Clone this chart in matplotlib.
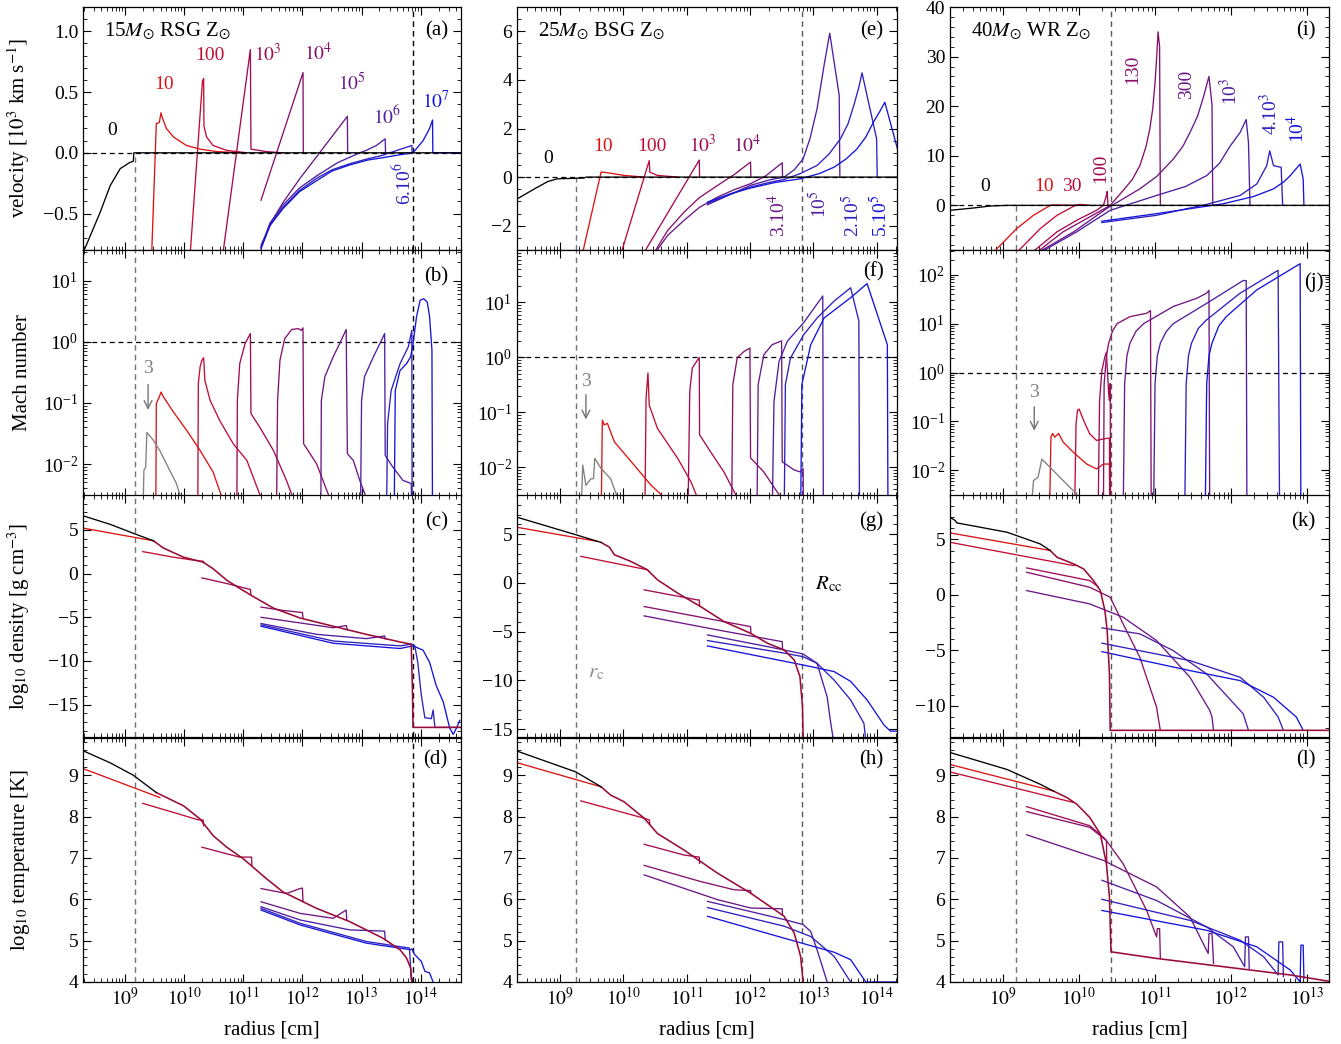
import numpy as np
import matplotlib
matplotlib.use('Agg')
import matplotlib.pyplot as plt
from matplotlib.colors import LinearSegmentedColormap
from matplotlib.ticker import MultipleLocator, LogLocator, NullFormatter, FixedLocator

plt.rcParams['font.family'] = ['Liberation Serif', 'DejaVu Serif']
plt.rcParams['mathtext.fontset'] = 'stix'
plt.rcParams['font.size'] = 14

# ---------------- data (x = log10 radius [cm], y = value) ----------------
T_COL1 = ['10', '100', '$10^3$', '$10^4$', '$10^5$', '$10^6$', '6.10$^6$', '$10^7$']
T_COL2 = ['10', '100', '$10^3$', '$10^4$', '3.10$^4$', '10$^5$', '2.10$^5$', '5.10$^5$']
T_COL3 = ['10', '30', '100', '130', '300', '10$^3$', '4.10$^3$', '10$^4$']

# --- 15 Msun RSG ---
A_T0 = [8.32,-0.79, 8.58,-0.49, 8.75,-0.27, 8.92,-0.13, 9.08,-0.08, 9.14,-0.07, 9.15,0.0, 14.7,0.0]
A_CURVES = [
    [9.45,-0.85, 9.53,0.24, 9.58,0.25, 9.61,0.33, 9.63,0.29, 9.70,0.20, 9.82,0.13, 10.04,0.06, 10.27,0.03, 10.55,0.01, 10.94,0.0],
    [10.10,-0.85, 10.31,0.59, 10.33,0.61, 10.335,0.22, 10.38,0.13, 10.49,0.06, 10.72,0.02, 11.06,0.0],
    [10.65,-0.85, 11.12,0.85, 11.13,0.03, 11.39,0.01, 11.67,0.0],
    [11.30,-0.39, 12.01,0.66, 12.015,0.0],
    [11.30,-0.76, 11.50,-0.55, 11.67,-0.41, 11.96,-0.21, 12.29,0.0, 12.76,0.30, 12.765,0.0],
    [11.30,-0.78, 11.45,-0.58, 11.67,-0.43, 11.95,-0.29, 12.24,-0.19, 12.6,-0.08, 12.97,0.0, 13.08,0.02, 13.25,0.06, 13.40,0.115, 13.405,0.0],
    [11.30,-0.78, 11.45,-0.59, 11.67,-0.45, 11.95,-0.31, 12.24,-0.21, 12.5,-0.14, 12.80,-0.09, 13.1,-0.05, 13.36,-0.02, 13.60,0.02, 13.85,0.06, 13.855,0.0],
    [11.30,-0.79, 11.45,-0.60, 11.67,-0.46, 11.95,-0.32, 12.24,-0.23, 12.5,-0.15, 12.80,-0.10, 13.1,-0.06, 13.36,-0.04, 13.6,-0.02, 13.87,0.0, 14.04,0.10, 14.15,0.20, 14.20,0.27, 14.205,0.0, 14.7,0.0],
]
B_T3 = [9.30,1e-3, 9.32,0.0079, 9.35,0.0089, 9.37,0.033, 9.48,0.0245, 9.59,0.0166, 9.70,0.0101, 9.87,0.0048, 9.96,0.0025, 10.0,1e-3]
B_CURVES = [
    [9.52,1e-3, 9.53,0.098, 9.58,0.126, 9.61,0.151, 9.65,0.126, 9.82,0.071, 10.04,0.036, 10.27,0.0167, 10.49,0.0074, 10.66,0.0025, 10.70,1e-3],
    [10.23,1e-3, 10.24,0.21, 10.27,0.39, 10.30,0.50, 10.33,0.55, 10.35,0.235, 10.44,0.11, 10.60,0.052, 10.83,0.0215, 11.06,0.0115, 11.30,0.0028, 11.35,1e-3],
    [10.89,1e-3, 10.90,0.11, 10.94,0.44, 11.03,0.94, 11.12,1.37, 11.13,0.067, 11.28,0.04, 11.51,0.0167, 11.73,0.0054, 11.84,0.0028, 11.88,1e-3],
    [11.56,1e-3, 11.58,0.11, 11.62,0.50, 11.70,1.13, 11.82,1.6, 11.93,1.65, 11.98,1.55, 12.01,1.7, 12.02,0.0215, 12.24,0.0101, 12.46,0.0028, 12.5,1e-3],
    [12.31,1e-3, 12.32,0.11, 12.38,0.27, 12.52,0.57, 12.63,0.94, 12.74,1.6, 12.76,0.0148, 12.86,0.0115, 12.97,0.0054, 13.08,0.0028, 13.12,1e-3],
    [12.98,1e-3, 13.0,0.11, 13.05,0.27, 13.20,0.57, 13.31,0.94, 13.39,1.37, 13.40,0.0138, 13.53,0.0089, 13.70,0.0054, 13.84,0.0048, 13.85,1e-3],
    [13.42,1e-3, 13.44,0.046, 13.50,0.16, 13.65,0.44, 13.79,0.83, 13.85,1.55, 13.855,1e-3],
    [13.55,1e-3, 13.57,0.16, 13.65,0.34, 13.76,0.44, 13.83,0.57, 13.87,0.94, 13.93,2.6, 13.99,4.8, 14.05,5.1, 14.11,4.5, 14.15,2.6, 14.19,0.73, 14.20,1e-3],
]
C_T0 = [8.31,6.58, 8.75,5.64, 9.14,4.62, 9.48,3.76]
C_MAIN = [9.48,3.76, 9.65,2.93, 9.99,1.88, 10.32,1.32, 10.49,0.56, 10.72,-0.75, 10.94,-1.69, 11.17,-2.63, 11.51,-3.95, 11.96,-5.08,
          12.52,-6.02, 13.08,-6.95, 13.65,-7.82, 13.84,-8.08, 13.86,-13.2, 13.87,-17.6, 14.7,-17.6]
C_CURVES = [
    [8.31,5.19, 9.48,3.76],
    [9.30,2.52, 9.82,1.88, 10.27,1.43, 10.32,1.43, 10.33,1.25],
    [10.30,-0.49, 10.72,-1.13, 11.11,-1.80, 11.12,-1.80, 11.13,-2.45],
    [11.30,-3.83, 11.67,-4.21, 11.98,-4.44, 12.00,-4.44, 12.01,-5.1],
    [11.30,-5.0, 11.96,-5.64, 12.52,-6.20, 12.74,-5.94, 12.76,-6.42],
    [11.30,-5.71, 12.24,-6.95, 13.08,-7.44, 13.39,-7.14, 13.40,-7.45],
    [11.30,-5.86, 12.52,-7.71, 13.65,-8.27, 13.84,-8.08, 13.87,-8.1, 13.90,-8.27, 13.95,-10.15, 14.01,-13.9, 14.07,-16.5, 14.18,-16.6, 14.21,-15.6, 14.24,-17.6, 14.7,-17.6],
    [11.30,-6.02, 12.52,-7.97, 13.65,-8.57, 13.87,-8.27, 14.04,-8.76, 14.15,-10.15, 14.26,-12.78, 14.38,-14.66, 14.49,-17.67, 14.55,-18.4, 14.61,-17.6, 14.66,-16.8],
]
D_T0 = [8.31,9.58, 8.75,9.30, 9.14,9.0, 9.53,8.58]
D_MAIN = [9.53,8.58, 9.99,8.26, 10.27,7.94, 10.49,7.54, 10.72,7.26, 11.0,6.98, 11.39,6.50, 11.67,6.18, 12.24,5.78, 12.80,5.46,
          13.36,5.06, 13.65,4.78, 13.76,4.58, 13.83,4.34, 13.85,4.0]
D_CURVES = [
    [8.31,9.15, 9.59,8.46],
    [9.30,8.32, 9.82,8.10, 10.24,7.92, 10.32,7.92, 10.33,7.78],
    [10.30,7.26, 10.72,7.10, 10.94,7.02, 11.14,7.02, 11.145,6.82],
    [11.30,6.26, 11.73,6.14, 11.96,6.26, 12.0,6.27, 12.01,5.94],
    [11.30,5.94, 11.96,5.66, 12.52,5.54, 12.74,5.74, 12.75,5.49],
    [11.30,5.82, 11.96,5.50, 12.80,5.26, 13.39,5.23, 13.40,5.02],
    [11.30,5.78, 11.96,5.42, 13.08,4.98, 13.81,4.82, 13.84,4.06],
    [11.30,5.74, 11.96,5.38, 13.08,4.94, 13.83,4.78, 13.85,4.80, 13.90,4.66, 14.01,4.50, 14.07,4.26, 14.15,4.22, 14.21,4.0],
]

# --- 25 Msun BSG ---
E_T0 = [8.33,-0.89, 8.60,-0.48, 8.81,-0.18, 8.96,-0.07, 9.38,-0.04, 9.41,0.0, 14.4,0.0]
E_CURVES = [
    [9.36,-3.1, 9.65,0.21, 9.75,0.18, 10.01,0.07, 10.33,0.0],
    [9.97,-3.1, 10.41,0.68, 10.42,0.2, 10.54,0.07, 10.86,0.0],
    [10.33,-3.1, 11.20,0.70, 11.205,0.0],
    [10.49,-3.1, 10.70,-2.2, 10.96,-1.44, 11.2,-0.85, 11.49,-0.34, 11.75,0.1, 12.01,0.62, 12.015,0.0],
    [10.51,-3.1, 10.70,-2.4, 10.96,-1.78, 11.2,-1.25, 11.49,-0.82, 11.75,-0.52, 12.01,-0.27, 12.25,0.05, 12.51,0.59, 12.515,0.0],
    [11.33,-1.14, 11.7,-0.7, 12.01,-0.34, 12.3,-0.12, 12.54,0.0, 12.7,0.3, 12.84,0.75, 12.95,1.6, 13.06,2.81, 13.17,4.59, 13.26,5.92, 13.41,3.36, 13.42,0.0],
    [11.33,-1.08, 11.7,-0.7, 12.01,-0.41, 12.3,-0.22, 12.54,-0.10, 12.8,0.15, 13.06,0.48, 13.25,0.95, 13.43,1.58, 13.55,2.2, 13.64,2.95, 13.72,3.7, 13.77,4.29, 14.0,1.58, 14.01,0.0],
    [11.33,-1.03, 11.7,-0.68, 12.01,-0.45, 12.4,-0.22, 12.80,-0.07, 13.1,0.15, 13.33,0.41, 13.52,0.75, 13.69,1.16, 13.83,1.65, 13.95,2.26, 14.05,2.7, 14.13,3.08, 14.33,1.16],
]
F_T3 = [9.33,1e-3, 9.36,0.011, 9.41,0.0047, 9.49,0.0062, 9.53,0.0062, 9.55,0.0145, 9.65,0.0095, 9.80,0.0062, 9.91,0.0028, 9.95,1e-3]
F_CURVES = [
    [9.65,1e-3, 9.67,0.072, 9.70,0.059, 9.75,0.063, 9.80,0.044, 9.86,0.029, 10.17,0.011, 10.44,0.0047, 10.65,0.0028, 10.7,1e-3],
    [10.34,1e-3, 10.36,0.18, 10.39,0.52, 10.41,0.135, 10.54,0.051, 10.86,0.0145, 11.07,0.0054, 11.17,0.0028, 11.2,1e-3],
    [11.02,1e-3, 11.05,0.24, 11.09,0.64, 11.20,1.0, 11.205,0.039, 11.38,0.019, 11.59,0.0082, 11.80,0.0028, 11.85,1e-3],
    [11.71,1e-3, 11.73,0.32, 11.80,0.99, 11.91,1.29, 12.0,1.48, 12.01,0.0148, 12.22,0.0082, 12.49,0.0028, 12.52,1e-3],
    [12.11,1e-3, 12.13,0.32, 12.22,1.12, 12.35,1.7, 12.50,2.0, 12.51,0.0126, 12.70,0.0089, 12.80,0.0082, 12.84,0.0095, 12.845,1e-3],
    [12.35,1e-3, 12.38,0.158, 12.46,0.85, 12.59,1.96, 12.85,4.3, 13.15,13.1, 13.16,1e-3],
    [12.54,1e-3, 12.56,0.32, 12.64,0.97, 12.85,2.6, 13.06,5.2, 13.33,10.6, 13.59,18.5, 13.72,4.6, 13.73,1e-3],
    [12.80,1e-3, 12.82,0.32, 12.96,1.7, 13.17,5.2, 13.59,12.2, 13.85,22.0, 14.17,1.7, 14.18,1e-3],
]
G_T0 = [8.33,6.71, 9.25,4.93, 9.65,4.14]
G_MAIN = [9.65,4.14, 9.78,3.66, 9.86,2.88, 10.12,2.19, 10.38,1.34, 10.54,0.31, 10.86,-1.06, 11.22,-2.43, 11.59,-3.97, 12.01,-5.17,
          12.28,-6.20, 12.54,-6.88, 12.70,-7.91, 12.79,-9.62, 12.83,-12.7, 12.84,-16.1]
G_CURVES = [
    [8.33,5.68, 9.59,4.25],
    [9.33,2.71, 10.38,1.34, 10.41,1.15],
    [10.33,-0.72, 11.17,-1.75, 11.20,-1.75, 11.205,-2.33],
    [10.33,-2.43, 12.01,-4.49, 12.015,-5.17],
    [10.33,-3.39, 11.49,-4.83, 12.51,-6.03, 12.515,-6.75],
    [11.33,-5.34, 12.28,-6.54, 12.84,-7.29, 13.06,-8.25, 13.22,-11.7, 13.27,-14.1, 13.32,-16.2],
    [11.33,-5.92, 12.54,-7.2, 12.84,-7.57, 13.06,-8.25, 13.33,-9.97, 13.59,-12.0, 13.80,-14.4, 13.83,-16.2],
    [11.33,-6.47, 12.84,-8.42, 13.33,-9.1, 13.59,-10.1, 13.85,-12.0, 14.12,-14.6, 14.22,-15.2, 14.33,-15.2],
]
H_T0 = [8.33,9.58, 9.25,9.08, 9.65,8.72]
H_MAIN = [9.65,8.72, 9.80,8.52, 10.01,8.36, 10.33,7.96, 10.54,7.59, 10.96,7.19, 11.49,6.63, 12.01,6.15, 12.54,5.59, 12.70,5.18,
          12.80,4.62, 12.84,4.0]
H_CURVES = [
    [8.33,9.30, 9.65,8.72],
    [9.33,8.38, 10.33,7.96, 10.41,7.92, 10.42,7.82],
    [10.33,7.33, 10.96,7.07, 11.20,7.02, 11.205,6.87],
    [10.33,6.82, 11.22,6.43, 11.75,6.23, 12.01,6.21, 12.015,6.15],
    [10.33,6.59, 11.49,5.99, 12.01,5.79, 12.51,5.77, 12.515,5.62],
    [11.33,5.95, 12.54,5.51, 12.84,5.39, 12.96,5.22, 13.06,4.78, 13.22,4.0],
    [11.33,5.80, 12.54,5.35, 12.96,5.10, 13.33,4.62, 13.59,4.0],
    [11.33,5.59, 12.54,5.06, 13.33,4.72, 13.59,4.54, 13.83,4.0, 14.4,4.0],
]

# --- 40 Msun WR ---
I_T0 = [8.30,-1.0, 8.61,-0.53, 8.83,-0.13, 9.05,0.0, 13.35,0.0]
I_CURVES = [
    [8.87,-9.5, 9.18,-4.67, 9.40,-2.0, 9.62,0.0, 9.66,0.07, 9.97,0.0],
    [9.18,-9.5, 9.49,-4.67, 9.71,-2.0, 9.95,0.0, 10.01,0.2, 10.14,0.0],
    [9.38,-9.5, 9.71,-5.33, 9.97,-3.0, 10.23,-1.0, 10.32,0.0, 10.36,2.0, 10.37,2.8, 10.38,0.0],
    [9.44,-9.5, 9.79,-5.33, 10.14,-2.33, 10.41,0.0, 10.58,3.0, 10.70,5.2, 10.80,8.0, 10.88,11.8, 10.93,15.3, 10.97,19.5, 11.0,24.7, 11.02,29.5, 11.04,35.0, 11.06,32.0, 11.07,0.0],
    [9.46,-9.5, 9.93,-5.33, 10.36,-0.67, 10.60,1.5, 10.80,3.33, 11.02,5.8, 11.24,9.33, 11.37,12.0, 11.46,14.7, 11.56,18.0, 11.64,22.0, 11.71,26.0, 11.75,20.3, 11.76,0.0],
    [9.49,-9.5, 9.97,-5.33, 10.41,-1.0, 11.02,2.0, 11.40,3.8, 11.68,6.0, 11.85,8.5, 11.99,12.0, 12.12,14.7, 12.20,17.3, 12.23,12.7, 12.25,0.0],
    [10.30,-3.47, 11.02,-2.0, 11.68,0.2, 12.12,2.0, 12.34,4.33, 12.47,8.0, 12.51,11.0, 12.56,8.0, 12.66,7.67, 12.68,0.0],
    [10.30,-3.2, 11.02,-1.67, 11.90,0.33, 12.30,1.8, 12.56,3.33, 12.70,4.8, 12.78,6.0, 12.91,8.33, 12.95,5.33, 12.96,0.0],
]
J_T3 = [9.36,1e-3, 9.40,0.0062, 9.46,0.0072, 9.51,0.017, 9.62,0.0115, 9.79,0.0062, 9.97,0.0033, 10.0,1e-3]
J_CURVES = [
    [9.61,1e-3, 9.63,0.048, 9.65,0.057, 9.68,0.048, 9.73,0.057, 9.79,0.038, 9.93,0.023, 10.10,0.0135, 10.23,0.0107, 10.32,0.0135, 10.40,0.0135, 10.405,1e-3],
    [9.94,1e-3, 9.96,0.089, 9.98,0.17, 10.0,0.18, 10.06,0.105, 10.14,0.056, 10.23,0.041, 10.32,0.044, 10.40,0.046, 10.405,1e-3],
    [10.25,1e-3, 10.27,0.27, 10.30,1.1, 10.34,2.1, 10.36,2.6, 10.39,0.37, 10.40,0.27, 10.41,0.6, 10.415,1e-3],
    [10.32,1e-3, 10.33,0.59, 10.36,2.2, 10.39,4.0, 10.44,7.0, 10.50,10.0, 10.67,13.9, 10.89,16.3, 10.94,18.5, 10.95,1e-3],
    [10.58,1e-3, 10.60,0.59, 10.63,2.2, 10.67,4.0, 10.75,7.0, 10.85,10.0, 11.24,22.4, 11.55,33.0, 11.68,42.0, 11.71,48.0, 11.72,1e-3],
    [10.98,1e-3, 11.0,0.59, 11.03,2.2, 11.07,4.0, 11.15,7.0, 11.24,10.0, 11.68,26.0, 12.16,76.0, 12.20,76.0, 12.21,1e-3],
    [11.39,1e-3, 11.41,0.59, 11.44,2.2, 11.48,4.0, 11.57,8.0, 11.68,12.0, 12.12,42.0, 12.62,123.0, 12.64,1e-3],
    [11.66,1e-3, 11.68,0.59, 11.71,2.2, 11.75,4.0, 11.84,9.0, 11.94,14.0, 12.34,49.0, 12.91,168.0, 12.92,1e-3],
]
K_T0 = [8.30,7.0, 8.37,6.7, 8.39,6.49, 9.05,5.65, 9.49,4.59, 9.62,4.0]
K_MAIN = [9.62,4.0, 9.71,3.39, 9.93,2.79, 10.06,2.34, 10.19,1.29, 10.28,0.39, 10.34,-1.41, 10.37,-3.21, 10.40,-7.12, 10.41,-12.2, 13.35,-12.2]
K_CURVES = [
    [8.30,5.59, 9.62,4.0],
    [8.30,4.74, 9.93,2.64, 9.95,2.70],
    [9.31,2.43, 10.14,1.29, 10.25,0.75],
    [9.31,2.04, 10.14,0.69, 10.41,-0.21, 10.58,-2.61, 10.80,-5.62, 11.02,-10.1, 11.04,-11.0, 11.07,-12.2],
    [9.31,0.39, 10.14,-0.81, 10.58,-2.01, 11.02,-4.11, 11.46,-7.42, 11.72,-10.4, 11.75,-11.0, 11.77,-12.2],
    [10.30,-2.97, 10.80,-3.51, 11.24,-5.02, 11.68,-7.12, 12.16,-10.7, 12.23,-12.2],
    [10.30,-4.35, 11.46,-5.92, 12.12,-7.42, 12.43,-9.22, 12.62,-11.0, 12.69,-12.2],
    [10.30,-5.11, 11.46,-6.82, 12.12,-7.72, 12.56,-9.22, 12.86,-11.0, 12.95,-12.2],
]
L_T0 = [8.30,9.55, 9.05,9.14, 9.49,8.78, 9.66,8.62]
L_MAIN = [9.66,8.62, 9.84,8.46, 9.97,8.30, 10.14,7.98, 10.28,7.58, 10.36,6.86, 10.40,6.05, 10.42,4.73, 11.02,4.57, 11.90,4.37,
          12.78,4.17, 13.35,4.0]
L_CURVES = [
    [8.30,9.26, 9.66,8.62],
    [8.30,9.08, 9.93,8.34],
    [9.31,8.24, 10.14,7.78, 10.32,7.50, 10.36,7.42, 10.365,6.9],
    [9.31,8.12, 10.14,7.74, 10.36,7.42, 10.58,6.86, 10.89,5.73, 11.02,5.09, 11.03,5.29, 11.06,5.29, 11.07,4.57],
    [9.31,7.56, 10.32,6.94, 11.02,6.30, 11.46,5.57, 11.70,4.69, 11.71,5.17, 11.75,5.17, 11.77,4.45],
    [10.30,6.46, 11.02,5.97, 11.68,5.33, 12.03,4.85, 12.18,4.37, 12.19,5.09, 12.23,5.09, 12.24,4.33],
    [10.30,6.0, 11.46,5.49, 12.12,5.01, 12.43,4.61, 12.62,4.17, 12.63,4.97, 12.68,4.97, 12.69,4.13],
    [10.30,5.73, 11.68,5.25, 12.34,4.85, 12.78,4.29, 12.91,4.0, 12.92,4.89, 12.95,4.89, 12.96,4.09],
]

R_C = [1.5e9, 1.8e9, 1.5e9]
R_CC = [7.3e13, 6.7e12, 2.6e10]
XLIM = [(1.95e8, 4.8e14), (2.1e8, 2.1e14), (2.0e8, 1.95e13)]
XTICKS = [[1e9, 1e10, 1e11, 1e12, 1e13, 1e14], [1e9, 1e10, 1e11, 1e12, 1e13, 1e14], [1e9, 1e10, 1e11, 1e12, 1e13]]

# ---------------- styling ----------------
cmap = LinearSegmentedColormap.from_list('t', ['#dc1414', '#bc0c3c', '#980a5a', '#7a1478', '#5a1c98', '#3322b8', '#1414dc'])
def tcol(i):
    return cmap(i / 7.0)

MAIN_COL = '#9a0c38'
W, H = 1341, 1044
fig = plt.figure(figsize=(W / 100, H / 100), dpi=100)
col_px = [(83, 378), (517, 380), (950, 379)]
row_px = [(7, 250), (250, 496), (495, 737), (738, 982)]

axes = [[None] * 3 for _ in range(4)]
for r in range(4):
    for c in range(3):
        l, w = col_px[c]
        t, b = row_px[r]
        axes[r][c] = fig.add_axes([l / W, 1 - b / H, w / W, (b - t) / H])

def xy(flat):
    a = np.asarray(flat, float).reshape(-1, 2)
    return 10 ** a[:, 0], a[:, 1]

def plot(ax, flat, color, lw=0.95, z=2):
    x, y = xy(flat)
    ax.plot(x, y, color=color, lw=lw, zorder=z)

DASH = (0, (4, 3))
panels = [
    [(A_T0, A_CURVES, None, None), (E_T0, E_CURVES, None, None), (I_T0, I_CURVES, None, None)],
    [(None, B_CURVES, B_T3, None), (None, F_CURVES, F_T3, None), (None, J_CURVES, J_T3, None)],
    [(C_T0, C_CURVES, None, C_MAIN), (G_T0, G_CURVES, None, G_MAIN), (K_T0, K_CURVES, None, K_MAIN)],
    [(D_T0, D_CURVES, None, D_MAIN), (H_T0, H_CURVES, None, H_MAIN), (L_T0, L_CURVES, None, L_MAIN)],
]
YLIM = [[(-0.8, 1.2), (-3, 7), (-9, 40)],
        [(3e-3, 32), (3e-3, 90), (3e-3, 320)],
        [(-18.7, 9), (-15.8, 9), (-12.8, 9)],
        [(4, 9.9), (4, 9.9), (4, 9.9)]]
letters = [['(a)', '(e)', '(i)'], ['(b)', '(f)', '(j)'], ['(c)', '(g)', '(k)'], ['(d)', '(h)', '(l)']]
letter_pos = [[(0.965, 0.9), (0.965, 0.9), (0.965, 0.9)],
              [(0.965, 0.89), (0.965, 0.91), (0.985, 0.87)],
              [(0.965, 0.89), (0.965, 0.89), (0.965, 0.89)],
              [(0.965, 0.91), (0.965, 0.91), (0.965, 0.91)]]

for r in range(4):
    for c in range(3):
        ax = axes[r][c]
        t0, curves, t3, main = panels[r][c]
        ax.set_xscale('log')
        if r == 1:
            ax.set_yscale('log')
        for i, cv in enumerate(curves):
            plot(ax, cv, tcol(i))
        if main is not None:
            plot(ax, main, MAIN_COL, lw=1.15, z=3)
        if t3 is not None:
            plot(ax, t3, '0.5', z=3)
        if t0 is not None:
            plot(ax, t0, 'black', z=4)
        ax.set_xlim(*XLIM[c])
        ax.set_ylim(*YLIM[r][c])
        y0, y1 = YLIM[r][c]
        if r == 0:
            ax.axhline(0, color='black', lw=0.9, ls=DASH, zorder=1)
            frac = (0 - y0) / (y1 - y0)
            ax.axvline(R_C[c], ymin=0, ymax=frac, color='0.45', lw=1.0, ls=DASH, zorder=1)
        else:
            ax.axvline(R_C[c], color='0.45', lw=1.0, ls=DASH, zorder=1)
        if r == 1:
            ax.axhline(1, color='black', lw=0.9, ls=DASH, zorder=1)
        ax.axvline(R_CC[c], color='black' if c == 0 else '0.35', lw=1.0, ls=DASH, zorder=1)
        ax.tick_params(which='both', direction='in', top=True, right=True, labelsize=14)
        ax.tick_params(which='major', length=6, width=0.8)
        ax.tick_params(which='minor', length=3, width=0.6)
        ax.xaxis.set_major_locator(FixedLocator(XTICKS[c]))
        ax.xaxis.set_minor_locator(LogLocator(base=10, subs=np.arange(2, 10), numticks=20))
        ax.xaxis.set_minor_formatter(NullFormatter())
        if r != 3:
            ax.tick_params(labelbottom=False)
        else:
            ax.set_xticklabels(['$10^{%d}$' % int(round(np.log10(v))) for v in XTICKS[c]])
            ax.set_xlabel('radius [cm]', fontsize=15, labelpad=8)
        if r == 1:
            ax.yaxis.set_major_locator(LogLocator(base=10, numticks=20))
            ax.yaxis.set_minor_locator(LogLocator(base=10, subs=np.arange(2, 10), numticks=20))
            ax.yaxis.set_minor_formatter(NullFormatter())
        for s in ax.spines.values():
            s.set_linewidth(0.9)
        lx, ly = letter_pos[r][c]
        ax.text(lx, ly, letters[r][c], transform=ax.transAxes, ha='right', va='center', fontsize=15)

axes[0][0].yaxis.set_major_locator(MultipleLocator(0.5)); axes[0][0].yaxis.set_minor_locator(MultipleLocator(0.1))
axes[0][1].yaxis.set_major_locator(MultipleLocator(2)); axes[0][1].yaxis.set_minor_locator(MultipleLocator(0.5))
axes[0][2].yaxis.set_major_locator(MultipleLocator(10)); axes[0][2].yaxis.set_minor_locator(MultipleLocator(2))
for c in range(3):
    axes[2][c].yaxis.set_major_locator(MultipleLocator(5)); axes[2][c].yaxis.set_minor_locator(MultipleLocator(1))
    axes[3][c].yaxis.set_major_locator(MultipleLocator(1)); axes[3][c].yaxis.set_minor_locator(MultipleLocator(0.2))

ylabels = ['velocity [$10^3$ km s$^{-1}$]', 'Mach number', 'log$_{10}$ density [g cm$^{-3}$]', 'log$_{10}$ temperature [K]']
for r in range(4):
    axes[r][0].set_ylabel(ylabels[r], fontsize=15)
    axes[r][0].yaxis.set_label_coords(-0.135, 0.5)

heads = ['15$M_{\\odot}$ RSG Z$_{\\odot}$', '25$M_{\\odot}$ BSG Z$_{\\odot}$', '40$M_{\\odot}$ WR Z$_{\\odot}$']
for c in range(3):
    axes[0][c].text(0.055, 0.9, heads[c], transform=axes[0][c].transAxes, ha='left', va='center', fontsize=15)

# time labels (velocity panels): position per label, in label order
A_LAB = [(9.66, 0.56), (10.44, 0.80), (11.42, 0.81), (12.26, 0.82), (12.83, 0.57), (13.44, 0.30), (13.70, -0.25), (14.25, 0.43)]
E_LAB = [(9.68, 1.27), (10.45, 1.27), (11.26, 1.31), (11.95, 1.31), (12.45, -1.6), (13.09, -1.1), (13.61, -1.6), (14.06, -1.6)]
I_LAB = [(9.54, 3.8), (9.91, 3.8), (10.28, 7.4), (10.70, 27.4), (11.41, 24.4), (11.99, 23.0), (12.51, 18.4), (12.87, 15.4)]
ZERO_LAB = [(8.78, 0.18), (8.81, 0.78), (8.76, 3.8)]
ROT = [[0, 0, 0, 0, 0, 0, 90, 0], [0, 0, 0, 0, 90, 90, 90, 90], [0, 0, 90, 90, 90, 90, 90, 90]]
for c, (labs, names) in enumerate([(A_LAB, T_COL1), (E_LAB, T_COL2), (I_LAB, T_COL3)]):
    ax = axes[0][c]
    zx, zy = ZERO_LAB[c]
    ax.text(10 ** zx, zy, '0', color='black', ha='center', va='center', fontsize=14)
    for i in range(8):
        xl, yl = labs[i]
        ax.text(10 ** xl, yl, names[i], color=tcol(i), ha='center', va='center', fontsize=14, rotation=ROT[c][i])

THREE = [(9.39, 0.37, 0.20, 0.077), (9.41, 0.36, 0.21, 0.074), (9.41, 0.39, 0.20, 0.065)]
for c in range(3):
    xl, yt, ya, yb = THREE[c]
    ax = axes[1][c]
    ax.text(10 ** xl, yt, '3', color='0.5', ha='center', va='center', fontsize=14)
    ax.annotate('', xy=(10 ** xl, yb), xytext=(10 ** xl, ya),
                arrowprops=dict(arrowstyle='->', color='0.45', lw=1.0, shrinkA=0, shrinkB=0))

axes[2][1].text(10 ** 13.24, -0.2, '$R_{\\rm cc}$', ha='center', va='center', fontsize=15)
axes[2][1].text(10 ** 9.57, -9.25, '$r_{\\rm c}$', color='0.55', ha='center', va='center', fontsize=15)

fig.savefig('out.png', dpi=100)
